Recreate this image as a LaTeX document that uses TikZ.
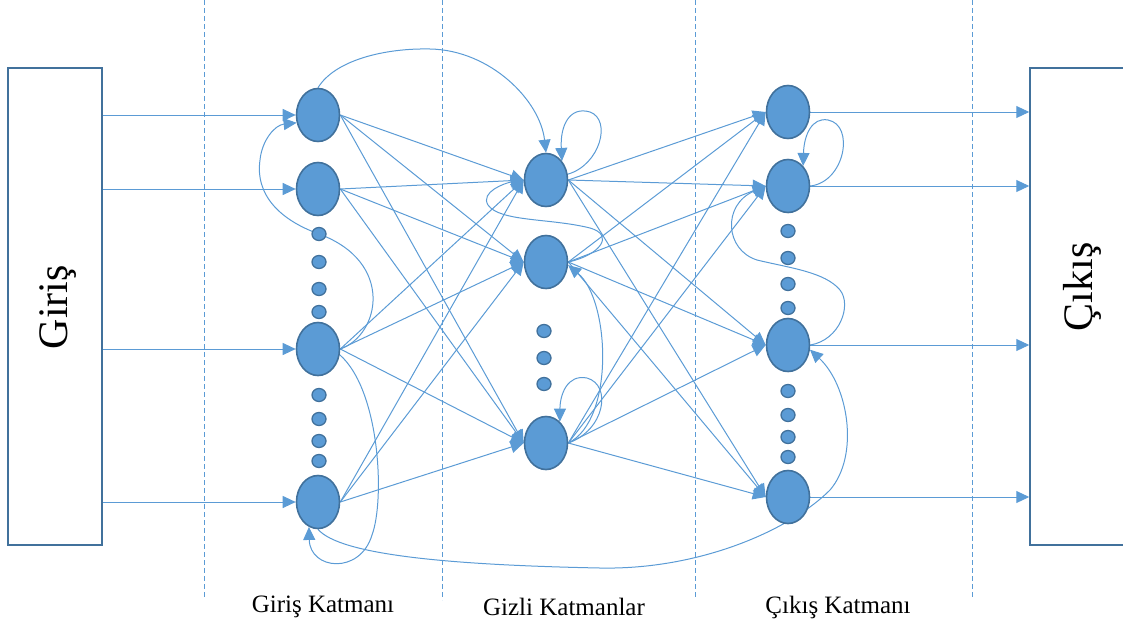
\documentclass[tikz,border=0pt]{standalone}
\usepackage{fontspec}
\setmainfont{Liberation Serif}
\usetikzlibrary{arrows.meta,shapes.geometric}
\definecolor{wire}{HTML}{5B9BD5}
\definecolor{rim}{HTML}{41719C}
\pgfdeclarelayer{back}
\pgfsetlayers{back,main}
\begin{document}
\begin{tikzpicture}[x=1pt,y=-1pt,
  neuron/.style={ellipse,draw=rim,fill=wire,line width=1.6pt,minimum width=43pt,minimum height=53pt,inner sep=0pt},
  pip/.style={ellipse,draw=rim,fill=wire,line width=1.3pt,minimum width=14pt,minimum height=13pt,inner sep=0pt},
  wirearrow/.style={draw=wire,line width=1pt,-{Triangle[length=13pt,width=12pt]}},
  guide/.style={draw=wire,line width=0.7pt,dash pattern=on 5pt off 3pt},
  panel/.style={draw=rim,line width=1.5pt,minimum height=477pt,inner sep=0pt},
  bigtext/.style={rotate=90,font=\fontsize{42}{48}\selectfont},
  caption/.style={font=\fontsize{25}{29}\selectfont}]
\useasboundingbox (0,0) rectangle (1123,632);

% layer separators
\draw[guide] (204,0) -- (204,598);
\draw[guide] (442,0) -- (442,600);
\draw[guide] (695,0) -- (695,598);
\draw[guide] (972,0) -- (972,598);

% input and output panels
\node[panel,minimum width=94pt] (inbox) at (55,306.5) {};
\node[panel,minimum width=130pt] (outbox) at (1095,306.5) {};
\node[bigtext] (intext) at (58,307) {Giriş};
\node[bigtext] (outtext) at (1082,287) {Çıkış};

% neurons
\node[neuron] (i1) at (318,115) {};
\node[neuron] (i2) at (318,189) {};
\node[neuron] (i3) at (318,349) {};
\node[neuron] (i4) at (318,502) {};
\node[neuron] (h1) at (546,180) {};
\node[neuron] (h2) at (546,262) {};
\node[neuron] (h3) at (546,443) {};
\node[neuron] (o1) at (788,112) {};
\node[neuron] (o2) at (788,186) {};
\node[neuron] (o3) at (788,345) {};
\node[neuron] (o4) at (788,497) {};

% ellipsis dots
\foreach \y [count=\k] in {234,262,289,312,395,419,441,461}
  \node[pip] (ip\k) at (319,\y) {};
\foreach \y [count=\k] in {331,358,384}
  \node[pip] (hp\k) at (544,\y) {};
\foreach \y [count=\k] in {231,258,284,308,391,415,437,457}
  \node[pip] (op\k) at (788,\y) {};

% captions
\node[caption] (capA) at (323,607) {Giriş Katmanı};
\node[caption] (capB) at (564,607) {Gizli Katmanlar};
\node[caption] (capC) at (838,607) {Çıkış Katmanı};

\begin{pgfonlayer}{back}
% inputs into the first layer
\foreach \n in {i1,i2,i3,i4}
  \draw[wirearrow] (inbox.east |- \n) -- (\n.west);
% outputs into the output panel
\foreach \n in {o1,o2,o3,o4}
  \draw[wirearrow] (\n.east) -- (\n -| outbox.west);
% full connections
\foreach \a in {i1,i2,i3,i4}
  \foreach \b in {h1,h2,h3}
    \draw[wirearrow] (\a.east) -- (\b.west);
\foreach \a in {h1,h2,h3}
  \foreach \b in {o1,o2,o3,o4}
    \draw[wirearrow] (\a.east) -- (\b.west);

% recurrent links
\draw[wirearrow] (i1.north) .. controls (335,60) and (385,48) .. (430,49)
  .. controls (490,50) and (540,100) .. (h1.north);
\draw[wirearrow] (h1.15) .. controls (600,165) and (612,120) .. (590,112)
  .. controls (570,106) and (560,125) .. (h1.50);
\draw[wirearrow] (h3.east) .. controls (605,430) and (612,385) .. (587,378)
  .. controls (567,374) and (560,395) .. (h3.57);
\draw[wirearrow] (h3.east) .. controls (615,420) and (610,300) .. (h2.-8);
\draw[wirearrow] (h2.east) .. controls (600,255) and (615,235) .. (590,228)
  .. controls (550,218) and (500,222) .. (488,205)
  .. controls (480,192) and (505,183) .. (h1.west);
\draw[wirearrow] (o2.east) .. controls (845,182) and (855,125) .. (828,120)
  .. controls (812,117) and (804,135) .. (o2.53);
\draw[wirearrow] (o3.east) .. controls (840,340) and (852,305) .. (840,290)
  .. controls (825,272) and (790,268) .. (757,260)
  .. controls (725,250) and (722,205) .. (o2.west);
\draw[wirearrow] (i3.east) .. controls (380,335) and (395,262) .. (ip1.center)
  .. controls (280,220) and (255,195) .. (260,160)
  .. controls (262,140) and (275,125) .. (i1.200);
\draw[wirearrow] (i3.-15) .. controls (380,390) and (385,500) .. (372,535)
  .. controls (360,575) and (310,570) .. (i4.250);
\draw[wirearrow] (i4.south) .. controls (340,555) and (450,565) .. (600,568)
  .. controls (700,570) and (790,530) .. (830,490)
  .. controls (860,455) and (848,385) .. (o3.-12);
\end{pgfonlayer}
\end{tikzpicture}
\end{document}
